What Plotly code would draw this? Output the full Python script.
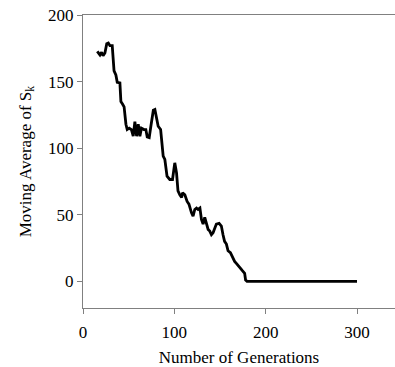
import plotly.graph_objects as go

generations = [15.6, 18.6, 20.4, 22, 24, 26, 27.7, 29.5, 32, 34, 36, 37.5, 40.4, 41.5, 43.4, 45,
               47, 48.4, 50.6, 53, 55, 56.8, 58.7, 60.5, 62.3, 64, 66.7, 68.8, 70.3, 72.5, 74.3,
               77, 78.7, 80.5, 82.3, 85, 86, 87.8, 89.6, 92, 95, 98, 99.5, 100.5, 102.4, 104,
               106, 108, 109, 111.5, 114, 116, 118.8, 120.5, 122.4, 124.3, 126, 128, 129.7,
               131.5, 133.3, 135, 137, 138.8, 140.6, 142.4, 144, 146, 149, 151.5, 153.3, 155,
               157, 158.8, 161.4, 163.6, 166, 168.6, 171.6, 174.5, 177, 178, 179.6, 200, 250, 300]
moving_avg = [172.7, 170, 172, 169.5, 171.5, 178.5, 179, 177, 177, 158, 155, 149.5, 149, 135, 133, 131,
              118, 114, 115, 114, 109, 120, 109, 118, 109, 115, 114, 114, 108.5, 108, 116.5,
              128.5, 129, 121.5, 116.5, 114, 106.5, 94, 91.5, 79, 76.5, 76.5, 84, 89, 81.5, 68,
              65, 63, 66.5, 65, 60, 58, 51.5, 49, 54, 55, 54, 55, 46.5,
              43, 48, 43, 39, 37.7, 35, 36.5, 39, 43, 43.5, 41.5, 35, 30,
              28, 23, 21.5, 18, 15, 13, 10, 8, 6, 1, 0, 0, 0, 0]

x_ticks = [0, 100, 200, 300]
y_ticks = [0, 50, 100, 150, 200]

font = dict(family="Liberation Serif", size=17, color="black")

fig = go.Figure()
fig.add_trace(go.Scatter(x=generations, y=moving_avg, mode="lines",
                         line=dict(color="black", width=2.8), showlegend=False))

fig.update_layout(
    width=395, height=367,
    margin=dict(l=83, r=0, t=15, b=59),
    paper_bgcolor="white", plot_bgcolor="white",
    font=font,
    xaxis=dict(range=[0, 341.6], tickvals=x_ticks, ticks="outside", ticklen=5,
               tickcolor="#808080", showline=True, linecolor="#808080", linewidth=1,
               mirror=True, showgrid=False, zeroline=False, automargin=False,
               ticklabelstandoff=4,
               title=dict(text="Number of Generations", font=font, standoff=12)),
    yaxis=dict(range=[-20, 200], tickvals=y_ticks, ticks="outside", ticklen=5,
               tickcolor="#808080", showline=True, linecolor="#808080", linewidth=1,
               showgrid=False, zeroline=False, automargin=False,
               title=dict(text="Moving Average of S<sub>k</sub>", font=font, standoff=12)),
)

# remove the browser's default 8px body margin so the figure sits at the window origin
fig.write_html("out.html", config={"displayModeBar": False},
               post_script="document.body.style.margin='0';")
